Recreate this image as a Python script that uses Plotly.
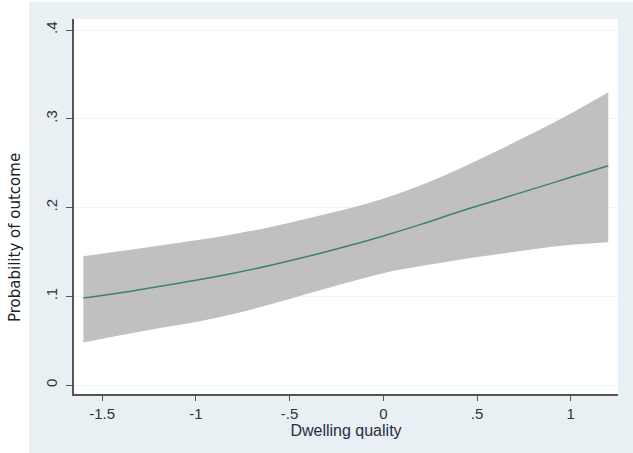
import plotly.graph_objects as go

x_vals = [-1.6, -1.4, -1.2, -1.0, -0.8, -0.6, -0.4, -0.2, 0.0, 0.2, 0.4, 0.6, 0.8, 1.0, 1.2]
prob = [0.098, 0.104, 0.111, 0.118, 0.126, 0.135, 0.145, 0.156, 0.168, 0.181, 0.195, 0.208, 0.221, 0.234, 0.247]
upper = [0.145, 0.151, 0.157, 0.163, 0.170, 0.178, 0.188, 0.198, 0.210, 0.225, 0.243, 0.263, 0.284, 0.306, 0.330]
lower = [0.048, 0.056, 0.064, 0.071, 0.080, 0.091, 0.103, 0.115, 0.126, 0.134, 0.141, 0.147, 0.153, 0.158, 0.161]

x_ticks = [-1.5, -1, -0.5, 0, 0.5, 1]
x_tick_labels = ["-1.5", "-1", "-.5", "0", ".5", "1"]
y_ticks = [0, 0.1, 0.2, 0.3, 0.4]
y_tick_labels = ["0", ".1", ".2", ".3", ".4"]

fig = go.Figure()
fig.add_trace(go.Scatter(x=x_vals, y=upper, mode="lines", line=dict(width=0, shape="spline"),
                         hoverinfo="skip", showlegend=False))
fig.add_trace(go.Scatter(x=x_vals, y=lower, mode="lines", line=dict(width=0, shape="spline"),
                         fill="tonexty", fillcolor="#c0c0c0", showlegend=False))
fig.add_trace(go.Scatter(x=x_vals, y=prob, mode="lines",
                         line=dict(color="#3f8078", width=1.5, shape="spline"),
                         showlegend=False))

fig.update_layout(
    width=633, height=453,
    margin=dict(l=74, r=15, t=19, b=59),
    paper_bgcolor="#e9f0f3",
    plot_bgcolor="white",
    font=dict(family="Liberation Sans, Arial, sans-serif", color="#333333", size=15),
    xaxis=dict(range=[-1.65, 1.252], tickvals=x_ticks, ticktext=x_tick_labels, automargin=False,
               showgrid=False, zeroline=False, showline=True, linecolor="#555555", linewidth=1.5,
               ticks="outside", ticklen=5, tickcolor="#555555", tickfont=dict(size=15, color="#333333"),
               title=dict(text="Dwelling quality", standoff=0, font=dict(size=16, color="#2a2a44"))),
    yaxis=dict(range=[-0.0101, 0.4124], tickvals=y_ticks, ticktext=y_tick_labels, tickangle=-90,
               automargin=False, ticklabelstandoff=3,
               showgrid=True, gridcolor="#eef4f4", zeroline=False, showline=True, linecolor="#555555",
               linewidth=1.5, ticks="outside", ticklen=6, tickcolor="#555555",
               tickfont=dict(size=15, color="#333333")),
    annotations=[
        dict(text="Probability of outcome", textangle=-90, xref="paper", yref="paper",
             x=(15 - 74) / 544, y=(394 - 238) / 375, xanchor="center", yanchor="middle",
             showarrow=False, font=dict(family="DejaVu Sans, sans-serif", size=15, color="#222222")),
    ],
    shapes=[
        dict(type="rect", xref="paper", yref="paper", x0=-0.14, x1=(29 - 74) / 544,
             y0=-0.2, y1=1.1, fillcolor="white", line=dict(width=0), layer="below"),
        dict(type="rect", xref="paper", yref="paper", x0=-0.14, x1=1.1,
             y0=(394 - 2) / 375, y1=1.1, fillcolor="white", line=dict(width=0), layer="below"),
    ],
)

fig.write_html("out.html", config={"displayModeBar": False},
               post_script="document.body.style.margin='0';")
